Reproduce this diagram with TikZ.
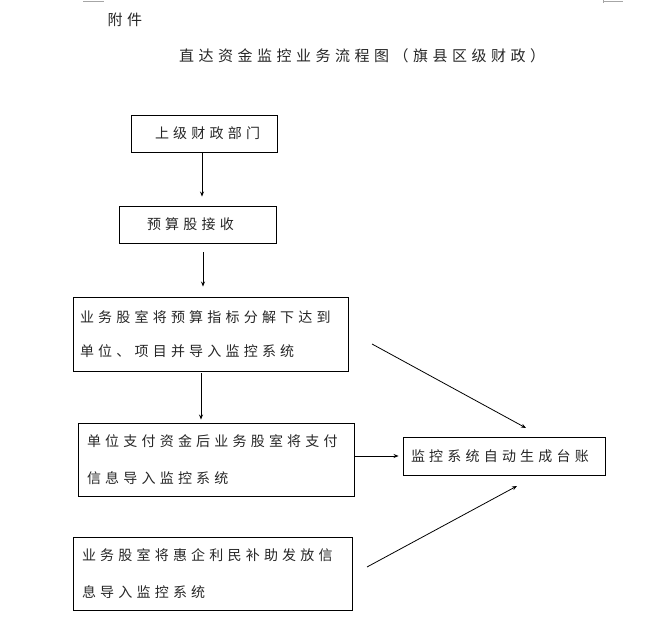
\documentclass[tikz,border=0pt]{standalone}
\usepackage{fontspec}
\setmainfont{Noto Sans CJK SC}[LetterSpace=30]
\usetikzlibrary{arrows.meta}
\begin{document}
\begin{tikzpicture}[x=1pt,y=-1pt,
  txt/.style={font=\fontsize{14}{34}\selectfont, text=black!85},
  box/.style={draw, line width=0.9pt, inner ysep=0pt, align=left, txt},
  arr/.style={draw, line width=0.8pt, -{Stealth[length=5pt,width=4pt]}},
  cropmark/.style={draw=black!35, line width=0.8pt}]
\useasboundingbox (0,0) rectangle (656,644);
% corner marks
\draw[cropmark] (83,1.5) -- (104,1.5);
\draw[cropmark] (603,1.5) -- (623,1.5);
\draw[cropmark] (603,0) -- (603,3.5);
% header
\node[anchor=west, font=\fontsize{15}{18}\selectfont, text=black!85] (fj) at (104,20) {附件};
\node[font=\fontsize{15}{18}\selectfont, text=black!85] (title) at (362,56) {直达资金监控业务流程图（旗县区级财政）};
% boxes
\node[box, minimum height=37pt, inner xsep=24pt, text width=98pt] (b1) at (204,133.5) {上级财政部门};
\node[box, minimum height=37pt, inner xsep=28pt, text width=101pt] (b2) at (197.5,224.5) {预算股接收};
\node[box, minimum height=74pt, inner xsep=7pt, text width=261pt] (b3) at (210.5,334) {业务股室将预算指标分解下达到\\单位、项目并导入监控系统};
\node[box, minimum height=73pt, inner xsep=9pt, text width=258pt, font=\fontsize{14}{37}\selectfont] (b4) at (216,459.5) {单位支付资金后业务股室将支付\\信息导入监控系统};
\node[box, minimum height=38pt, inner xsep=8pt, text width=186pt] (b5) at (504,456) {监控系统自动生成台账};
\node[box, minimum height=73pt, inner xsep=9pt, text width=261pt, font=\fontsize{14}{37}\selectfont] (b6) at (212.5,573.5) {业务股室将惠企利民补助发放信\\息导入监控系统};
% free ends
\coordinate (s1) at (372,344);
\coordinate (e1) at (526,428);
\coordinate (s2) at (367,567);
\coordinate (e2) at (517,486);
% connectors
\draw[arr] ([xshift=-2pt]b1.south) -- ([xshift=4.5pt,yshift=9pt]b2.north);
\draw[arr] ([xshift=5.5pt,yshift=-9pt]b2.south) -- ([xshift=-7.5pt,yshift=10pt]b3.north);
\draw[arr] ([xshift=-9.5pt,yshift=-2pt]b3.south) -- ([xshift=-15pt,yshift=3pt]b4.north);
\draw[arr, shorten >=4pt] (b4.east |- b5.west) -- (b5.west);
\draw[arr] (s1) -- (e1);
\draw[arr] (s2) -- (e2);
\end{tikzpicture}
\end{document}
